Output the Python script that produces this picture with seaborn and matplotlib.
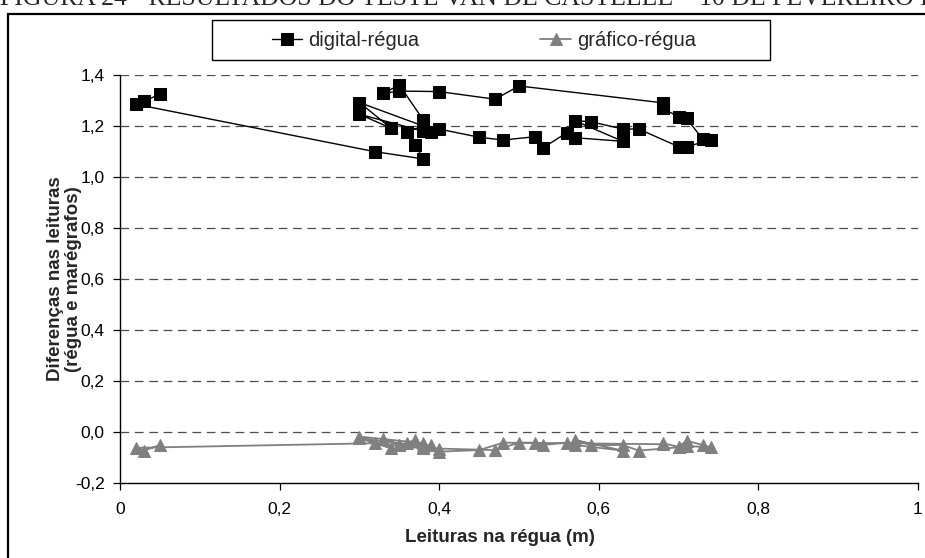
import matplotlib
matplotlib.use("Agg")
import matplotlib.pyplot as plt
from matplotlib.patches import Rectangle
import seaborn as sns
import pandas as pd

# ---- data (ruler readings in time order) ----
leitura_regua = [0.05, 0.03, 0.02, 0.32, 0.38, 0.37, 0.36, 0.38, 0.30, 0.34,
                 0.30, 0.38, 0.39, 0.40, 0.45, 0.48, 0.52, 0.53, 0.56, 0.57,
                 0.63, 0.57, 0.59, 0.63, 0.65, 0.70, 0.71, 0.74, 0.73, 0.71,
                 0.70, 0.68, 0.68, 0.50, 0.47, 0.40, 0.35, 0.33, 0.35, 0.38]
dif_digital = [1.324, 1.298, 1.285, 1.099, 1.071, 1.126, 1.178, 1.200, 1.292, 1.191,
               1.246, 1.180, 1.178, 1.188, 1.156, 1.145, 1.158, 1.114, 1.174, 1.154,
               1.140, 1.221, 1.217, 1.188, 1.188, 1.119, 1.119, 1.145, 1.149, 1.230,
               1.236, 1.269, 1.291, 1.357, 1.305, 1.335, 1.337, 1.328, 1.361, 1.224]
dif_grafico = [-0.051, -0.073, -0.062, -0.044, -0.064, -0.031, -0.042, -0.044, -0.018, -0.064,
               -0.025, -0.055, -0.051, -0.077, -0.071, -0.042, -0.042, -0.051, -0.042, -0.051,
               -0.073, -0.031, -0.051, -0.051, -0.073, -0.060, -0.055, -0.060, -0.051, -0.034,
               -0.058, -0.044, -0.048, -0.042, -0.071, -0.065, -0.051, -0.027, -0.050, -0.064]

series_names = ["digital-régua", "gráfico-régua"]
x_ticks = [0, 0.2, 0.4, 0.6, 0.8, 1]
x_tick_labels = ["0", "0,2", "0,4", "0,6", "0,8", "1"]
y_ticks = [-0.2, 0.0, 0.2, 0.4, 0.6, 0.8, 1.0, 1.2, 1.4]
y_tick_labels = ["-0,2", "0,0", "0,2", "0,4", "0,6", "0,8", "1,0", "1,2", "1,4"]

df = pd.DataFrame({"x": leitura_regua, "dig": dif_digital, "graf": dif_grafico})

sns.set_theme(style="white")
plt.rcParams["font.family"] = ["Liberation Sans", "DejaVu Sans"]

W, H = 925, 558
fig = plt.figure(figsize=(9.25, 5.58), dpi=100)
ax = fig.add_axes([120/W, 1-483/H, (918-120)/W, (483-75)/H])

sns.lineplot(data=df, x="x", y="dig", sort=False, estimator=None, ax=ax,
             color="black", linewidth=1.0, marker="s", markersize=8,
             markeredgecolor="black", markerfacecolor="black",
             label=series_names[0], zorder=4)
sns.lineplot(data=df, x="x", y="graf", sort=False, estimator=None, ax=ax,
             color="#808080", linewidth=1.3, marker="^", markersize=8.5,
             markeredgecolor="#808080", markerfacecolor="#808080",
             label=series_names[1], zorder=3)

ax.set_xlim(0, 1)
ax.set_ylim(-0.2, 1.4)
ax.set_xticks(x_ticks)
ax.set_xticklabels(x_tick_labels)
ax.set_yticks(y_ticks)
ax.set_yticklabels(y_tick_labels)

for yv in y_ticks[1:]:
    ax.axhline(yv, color="#4d4d4d", linestyle=(0, (7, 4.5)), linewidth=0.9, zorder=1)

for s in ["top", "right"]:
    ax.spines[s].set_visible(False)
for s in ["left", "bottom"]:
    ax.spines[s].set_color("black")
    ax.spines[s].set_linewidth(1.0)

ax.tick_params(axis="both", which="major", direction="out", length=5, width=0.9,
               color="black", labelsize=12.5, labelcolor="black", pad=6,
               bottom=True, left=True)
ax.tick_params(axis="x", pad=9)

ax.set_xlabel("Leituras na régua (m)", fontsize=13.5, fontweight="bold", labelpad=8)
ax.xaxis.label.set_x((500-120)/(918-120))
ax.set_ylabel("Diferenças nas leituras\n(régua e marégrafos)", fontsize=13.5,
              fontweight="bold", labelpad=-5, linespacing=1.05)

leg = ax.legend(loc="center", bbox_to_anchor=(484/W, 1-41/H),
                bbox_transform=fig.transFigure, ncol=2, frameon=False,
                fontsize=14.5, handlelength=1.5, handletextpad=0.3,
                columnspacing=6.0, borderpad=0.0, borderaxespad=0)
# legend box (behind legend entries)
fig.patches.append(Rectangle((212/W, 1-60/H), (770-212)/W, 40/H,
                             transform=fig.transFigure, fill=True, facecolor="white",
                             edgecolor="black", linewidth=1.0, zorder=-1))

# outer frame (cut by image edges)
fig.patches.append(Rectangle((8/W, -0.2), 1.5, 1.2 - 14/H,
                             transform=fig.transFigure, fill=False,
                             edgecolor="black", linewidth=1.6, zorder=-1))

fig.text(0.0, 1 - 5/H, "FIGURA 24 - RESULTADOS DO TESTE VAN DE CASTELLE – 10 DE FEVEREIRO DE 2004",
         family=["Liberation Serif", "DejaVu Serif"], fontsize=18.5, va="baseline", ha="left")

fig.savefig("out.png", dpi=100, facecolor="white")
